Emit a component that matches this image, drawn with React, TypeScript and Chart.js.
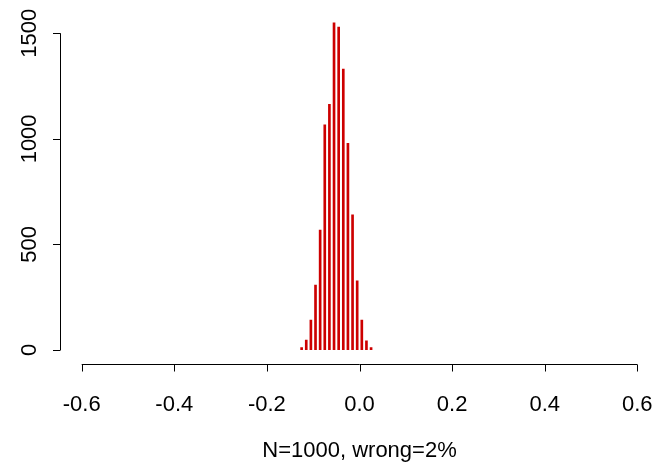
import React, { useEffect, useRef } from "react";
import { Chart, registerables } from "chart.js";

Chart.register(...registerables);

const xValues = [-0.125, -0.115, -0.105, -0.095, -0.085, -0.075, -0.065, -0.055, -0.045, -0.035, -0.025, -0.015, -0.005, 0.005, 0.015, 0.025];
const counts = [11, 47, 142, 308, 568, 1066, 1164, 1550, 1529, 1330, 979, 640, 328, 142, 43, 11];
const xTicks = [-0.6, -0.4, -0.2, 0.0, 0.2, 0.4, 0.6];
const yTicks = [0, 500, 1000, 1500];
const xTitle = "N=1000, wrong=2%";

const FONT = '22px "Liberation Sans", Arial, Helvetica, sans-serif';

const axesPlugin = {
  id: "rAxes",
  afterDraw(chart: any) {
    const ctx = chart.ctx as CanvasRenderingContext2D;
    const xs = chart.scales.x;
    const ys = chart.scales.y;
    ctx.save();
    ctx.strokeStyle = "#000";
    ctx.fillStyle = "#000";
    ctx.lineWidth = 1;
    ctx.font = FONT;

    // y axis
    const yAxisX = xs.left - 22;
    const y0 = ys.getPixelForValue(yTicks[0]);
    const y1 = ys.getPixelForValue(yTicks[yTicks.length - 1]);
    ctx.beginPath();
    ctx.moveTo(Math.round(yAxisX) + 0.5, y0);
    ctx.lineTo(Math.round(yAxisX) + 0.5, y1);
    yTicks.forEach((v) => {
      const py = Math.round(ys.getPixelForValue(v)) + 0.5;
      ctx.moveTo(Math.round(yAxisX) + 0.5, py);
      ctx.lineTo(Math.round(yAxisX) - 7, py);
    });
    ctx.stroke();
    yTicks.forEach((v) => {
      const py = ys.getPixelForValue(v);
      ctx.save();
      ctx.translate(yAxisX - 23.5, py);
      ctx.rotate(-Math.PI / 2);
      ctx.textAlign = "center";
      ctx.textBaseline = "alphabetic";
      ctx.fillText(String(v), 0, 0);
      ctx.restore();
    });

    // x axis
    const xAxisY = Math.round(ys.bottom + 14) + 0.5;
    const xa = xs.getPixelForValue(xTicks[0]);
    const xb = xs.getPixelForValue(xTicks[xTicks.length - 1]);
    ctx.beginPath();
    ctx.moveTo(xa, xAxisY);
    ctx.lineTo(xb, xAxisY);
    xTicks.forEach((v) => {
      const px = Math.round(xs.getPixelForValue(v)) + 0.5;
      ctx.moveTo(px, xAxisY);
      ctx.lineTo(px, xAxisY + 7);
    });
    ctx.stroke();
    ctx.textAlign = "center";
    ctx.textBaseline = "alphabetic";
    xTicks.forEach((v) => {
      const px = xs.getPixelForValue(v);
      ctx.fillText(v.toFixed(1), px, xAxisY + 46.5);
    });
    ctx.fillText(xTitle, (xa + xb) / 2, xAxisY + 92.5);
    ctx.restore();
  },
};

export default function App() {
  const ref = useRef<HTMLCanvasElement | null>(null);
  useEffect(() => {
    if (!ref.current) return;
    const chart = new Chart(ref.current, {
      type: "bar",
      data: {
        datasets: [
          {
            data: xValues.map((x, i) => ({ x, y: counts[i] })),
            backgroundColor: "#CD0000",
            borderWidth: 0,
            barThickness: 2,
          } as any,
        ],
      },
      options: {
        responsive: false,
        animation: false,
        events: [],
        layout: { padding: { left: 81.7, right: 24.7, top: 12.2, bottom: 114 } },
        plugins: { legend: { display: false }, tooltip: { enabled: false } },
        scales: {
          x: { type: "linear", min: -0.6, max: 0.6, display: false, offset: false },
          y: { type: "linear", min: 0, max: 1600, display: false },
        },
      },
      plugins: [axesPlugin],
    });
    return () => chart.destroy();
  }, []);
  return (
    <div style={{ position: "fixed", left: 0, top: 0, width: 662, height: 464, background: "#fff" }}>
      <canvas ref={ref} width={662} height={464} style={{ width: 662, height: 464, display: "block" }} />
    </div>
  );
}
